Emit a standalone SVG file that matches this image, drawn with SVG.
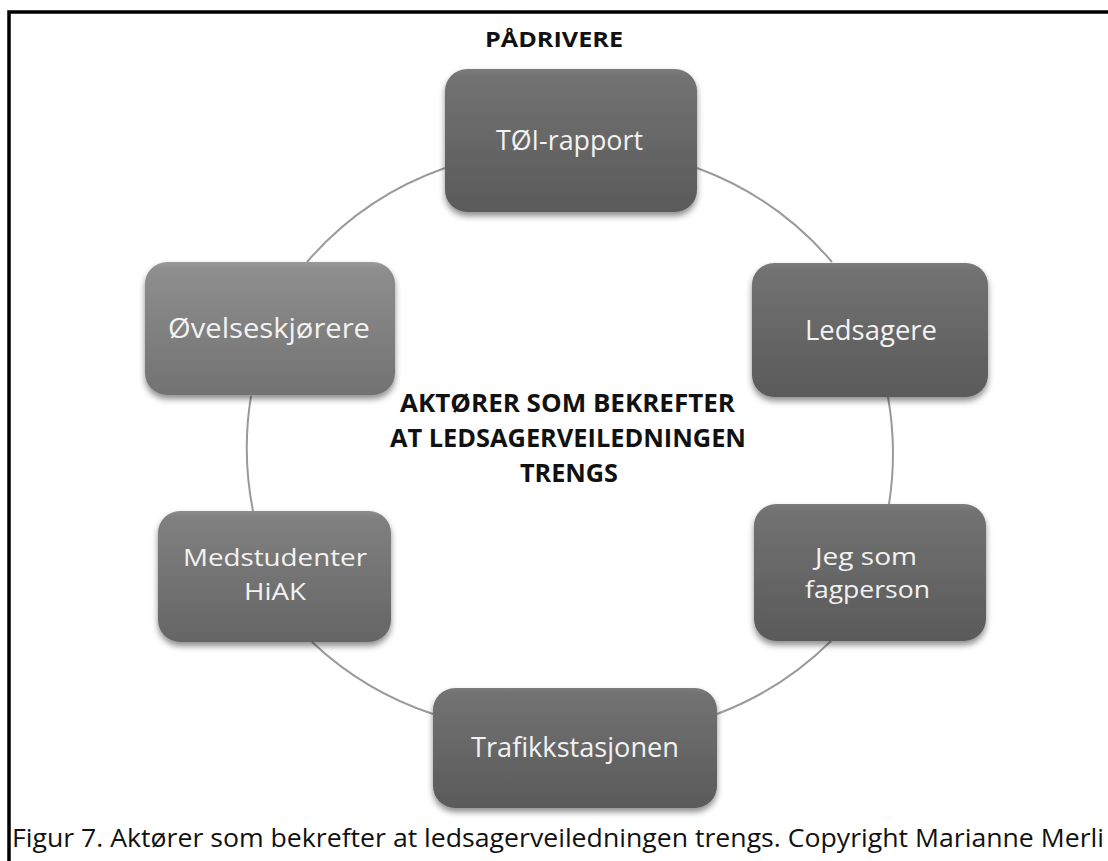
<svg xmlns="http://www.w3.org/2000/svg" width="1108" height="861" viewBox="0 0 1108 861">
<defs>
<linearGradient id="gDark" x1="0" y1="0" x2="0" y2="1">
<stop offset="0" stop-color="#7c7c7c"/>
<stop offset="0.05" stop-color="#727272"/>
<stop offset="1" stop-color="#5a5a5a"/>
</linearGradient>
<linearGradient id="gMid" x1="0" y1="0" x2="0" y2="1">
<stop offset="0" stop-color="#8c8c8c"/>
<stop offset="0.05" stop-color="#808080"/>
<stop offset="1" stop-color="#656565"/>
</linearGradient>
<linearGradient id="gLight" x1="0" y1="0" x2="0" y2="1">
<stop offset="0" stop-color="#9a9a9a"/>
<stop offset="0.05" stop-color="#8e8e8e"/>
<stop offset="1" stop-color="#727272"/>
</linearGradient>
<filter id="sh" x="-10%" y="-10%" width="120%" height="130%">
<feDropShadow dx="0" dy="4" stdDeviation="3" flood-color="#000" flood-opacity="0.45"/>
</filter>
<style>
.box{filter:url(#sh);}
.lbl{font-family:"Open Sans","DejaVu Sans",sans-serif;font-size:27px;fill:#f2f2f2;text-anchor:middle;}
.lbl2{font-family:"Open Sans","DejaVu Sans",sans-serif;font-size:24px;fill:#f2f2f2;text-anchor:middle;}
.ctr{font-family:"Open Sans","DejaVu Sans",sans-serif;font-weight:bold;font-size:25px;fill:#111;text-anchor:middle;}
.con{fill:none;stroke:#9a9a9a;stroke-width:2;}
</style>
</defs>
<rect x="0" y="0" width="1108" height="861" fill="#ffffff"/>
<rect x="9" y="12" width="1110" height="870" fill="none" stroke="#000" stroke-width="3.5"/>
<text x="554" y="47" style="font-family:'Open Sans','DejaVu Sans',sans-serif;font-weight:bold;font-size:22px;fill:#111;text-anchor:middle;" textLength="138" lengthAdjust="spacingAndGlyphs">PÅDRIVERE</text>
<g id="connectors">
<path class="con" d="M697,168 A323,323 0 0 1 832,262"/>
<path class="con" d="M888,397 A323,323 0 0 1 889,504"/>
<path class="con" d="M831,641 A323,323 0 0 1 717,714"/>
<path class="con" d="M433,714 A323,323 0 0 1 312,642"/>
<path class="con" d="M253,511 A323,323 0 0 1 251,396"/>
<path class="con" d="M307,262 A323,323 0 0 1 445,168"/>
</g>
<g id="node-toi">
<rect class="box" x="445" y="69" width="252" height="143" rx="22" fill="url(#gDark)"/>
<text class="lbl" x="569.5" y="150" textLength="147" lengthAdjust="spacingAndGlyphs">TØI-rapport</text>
</g>
<g id="node-ledsagere">
<rect class="box" x="752" y="263" width="236" height="134" rx="22" fill="url(#gDark)"/>
<text class="lbl" x="871" y="340" textLength="132" lengthAdjust="spacingAndGlyphs">Ledsagere</text>
</g>
<g id="node-jeg">
<rect class="box" x="754" y="504" width="232" height="137" rx="22" fill="url(#gDark)"/>
<text class="lbl2" x="866" y="565" textLength="102" lengthAdjust="spacingAndGlyphs">Jeg som</text>
<text class="lbl2" x="867.5" y="598" textLength="125" lengthAdjust="spacingAndGlyphs">fagperson</text>
</g>
<g id="node-trafikk">
<rect class="box" x="433" y="688" width="284" height="120" rx="22" fill="url(#gDark)"/>
<text class="lbl" x="575" y="757" textLength="208" lengthAdjust="spacingAndGlyphs">Trafikkstasjonen</text>
</g>
<g id="node-medstudenter">
<rect class="box" x="158" y="511" width="233" height="131" rx="22" fill="url(#gMid)"/>
<text class="lbl2" x="275" y="566" textLength="184" lengthAdjust="spacingAndGlyphs">Medstudenter</text>
<text class="lbl2" x="275" y="600" textLength="62" lengthAdjust="spacingAndGlyphs">HiAK</text>
</g>
<g id="node-ovelse">
<rect class="box" x="145" y="262" width="250" height="133" rx="22" fill="url(#gLight)"/>
<text class="lbl" x="269" y="338" textLength="202" lengthAdjust="spacingAndGlyphs">Øvelseskjørere</text>
</g>
<g id="center-label">
<text class="ctr" x="567.5" y="412" textLength="335" lengthAdjust="spacingAndGlyphs">AKTØRER SOM BEKREFTER</text>
<text class="ctr" x="568" y="447" textLength="356" lengthAdjust="spacingAndGlyphs">AT LEDSAGERVEILEDNINGEN</text>
<text class="ctr" x="569" y="482" textLength="98" lengthAdjust="spacingAndGlyphs">TRENGS</text>
</g>
<text x="12" y="847" style="font-family:'Open Sans','DejaVu Sans',sans-serif;font-size:26px;fill:#111;" textLength="1092" lengthAdjust="spacingAndGlyphs">Figur 7. Aktører som bekrefter at ledsagerveiledningen trengs. Copyright Marianne Merli</text>
</svg>
